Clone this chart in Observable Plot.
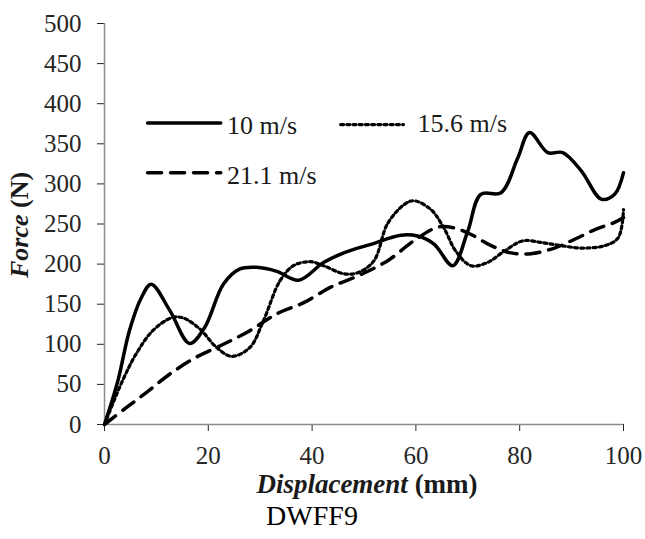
<!DOCTYPE html>
<html><head><meta charset="utf-8">
<script src="https://cdn.jsdelivr.net/npm/d3@7"></script>
<script src="https://cdn.jsdelivr.net/npm/@observablehq/plot@0.6"></script>
<style>
body{margin:0;background:#fff;}
#chart svg line{stroke:#8c8c8c;}
</style></head><body><div id="chart"></div>
<script>
// ---- data ----
const xTicks = [0, 20, 40, 60, 80, 100];
const yTicks = [0, 50, 100, 150, 200, 250, 300, 350, 400, 450, 500];
const seriesNames = ["10 m/s", "15.6 m/s", "21.1 m/s"];

const disp10 = [0, 2.6, 4.8, 7.1, 9.0, 12.6, 16.4, 19.3, 22.9, 26.1, 29.3, 33.2, 37.4, 42.2, 46.1, 51.5, 57.1, 60.3, 63.5, 67.1, 70.0, 72.5, 76.4, 79.6, 81.9, 85.4, 88.3, 91.9, 95.7, 98.3, 100];
const force10 = [0, 55, 117, 158, 175, 142, 101, 121, 175, 194, 196, 191, 180, 202, 214, 225, 236, 235, 225, 198, 241, 287, 289, 332, 364, 339, 339, 316, 281, 287, 314];

const disp156 = [0, 3.5, 6.1, 9.3, 12.9, 15.1, 18.4, 21.6, 24.5, 28.0, 30.6, 33.8, 36.4, 39.7, 42.2, 46.1, 48.7, 51.9, 54.5, 57.7, 59.6, 62.9, 65.4, 67.7, 70.6, 73.8, 77.0, 80.6, 84.1, 88.0, 91.9, 96.4, 99.0, 100];
const force156 = [0, 55, 88, 117, 133, 133, 119, 96, 85, 96, 129, 179, 198, 203, 198, 188, 189, 204, 250, 274, 279, 268, 245, 216, 198, 202, 216, 229, 227, 223, 220, 223, 233, 268];

const disp211 = [0, 4.2, 8.1, 12.6, 17.7, 22.9, 28.0, 33.2, 38.4, 43.5, 48.7, 54.5, 59.6, 64.2, 67.4, 70.6, 74.5, 78.3, 82.2, 86.7, 90.6, 94.5, 98.3, 100];
const force211 = [0, 21, 40, 63, 84, 100, 117, 138, 152, 171, 185, 204, 229, 246, 245, 237, 223, 214, 213, 220, 231, 243, 252, 258];

// ---- build tables ----
const toRows = (xs, ys, s) => xs.map((x, i) => ({x, y: ys[i], series: s}));
const rows10 = toRows(disp10, force10, seriesNames[0]);
const rows156 = toRows(disp156, force156, seriesNames[1]);
const rows211 = toRows(disp211, force211, seriesNames[2]);

const styles = {
  [seriesNames[0]]: {strokeWidth: 3.5, strokeDasharray: null},
  [seriesNames[1]]: {strokeWidth: 3.2, strokeDasharray: "3,3.2"},
  [seriesNames[2]]: {strokeWidth: 3.5, strokeDasharray: "14,9"}
};

const FONT = "Liberation Serif";

// legend layout (data units inside the plot frame)
const legendLayout = [
  {series: seriesNames[0], x1: 8.3, x2: 22.4, y: 376, tx: 23.6, ty: 373},
  {series: seriesNames[1], x1: 45.5, x2: 57.6, y: 374, tx: 60.3, ty: 375},
  {series: seriesNames[2], x1: 8.3, x2: 22.4, y: 314, tx: 23.6, ty: 310}
];

const lineMark = (rows, s) => Plot.line(rows, {
  x: "x", y: "y", curve: "catmull-rom", stroke: "#000",
  strokeWidth: styles[s].strokeWidth,
  ...(styles[s].strokeDasharray ? {strokeDasharray: styles[s].strokeDasharray} : {})
});

const legendMarks = legendLayout.flatMap(d => [
  Plot.line([{x: d.x1, y: d.y}, {x: d.x2, y: d.y}], {
    x: "x", y: "y", stroke: "#000", strokeWidth: styles[d.series].strokeWidth,
    ...(styles[d.series].strokeDasharray ? {strokeDasharray: styles[d.series].strokeDasharray} : {})
  }),
  Plot.text([d], {x: "tx", y: "ty", text: () => d.series, textAnchor: "start", lineAnchor: "middle", fontSize: 26, fill: "#1a1a1a"})
]);

const plot = Plot.plot({
  width: 645, height: 539,
  marginLeft: 104, marginRight: 22, marginTop: 23, marginBottom: 115,
  style: {fontSize: "25px", fontFamily: FONT, color: "#262626", background: "#fff", overflow: "visible"},
  x: {domain: [0, 100], ticks: xTicks, tickSize: 7, tickPadding: 15, label: null},
  y: {domain: [0, 500], ticks: yTicks, tickSize: 7, tickPadding: 16, label: null},
  marks: [
    Plot.ruleY([0], {stroke: "#8c8c8c", strokeWidth: 1.5}),
    Plot.ruleX([0], {stroke: "#8c8c8c", strokeWidth: 1.5}),
    lineMark(rows211, seriesNames[2]),
    lineMark(rows156, seriesNames[1]),
    lineMark(rows10, seriesNames[0]),
    ...legendMarks
  ]
});
document.getElementById("chart").appendChild(plot);

const svg = d3.select(plot);
svg.attr("font-family", FONT).style("font-family", FONT);
svg.selectAll("g").attr("font-family", null);
svg.selectAll("text").style("font-family", FONT);

const yTitle = svg.append("text")
  .attr("transform", "translate(28,225) rotate(-90)")
  .attr("text-anchor", "middle")
  .style("font-family", FONT)
  .attr("font-size", 26).attr("font-weight", "bold").attr("fill", "#1a1a1a");
yTitle.append("tspan").attr("font-style", "italic").text("Force");
yTitle.append("tspan").text(" (N)");

const xTitle = svg.append("text")
  .attr("x", 367).attr("y", 493)
  .attr("text-anchor", "middle")
  .style("font-family", FONT)
  .attr("font-size", 27).attr("font-weight", "bold").attr("fill", "#1a1a1a");
xTitle.append("tspan").attr("font-style", "italic").text("Displacement");
xTitle.append("tspan").text(" (mm)");

svg.append("text")
  .attr("x", 312).attr("y", 525)
  .attr("text-anchor", "middle")
  .style("font-family", FONT)
  .attr("font-size", 28).attr("fill", "#000")
  .text("DWFF9");
</script></body></html>
